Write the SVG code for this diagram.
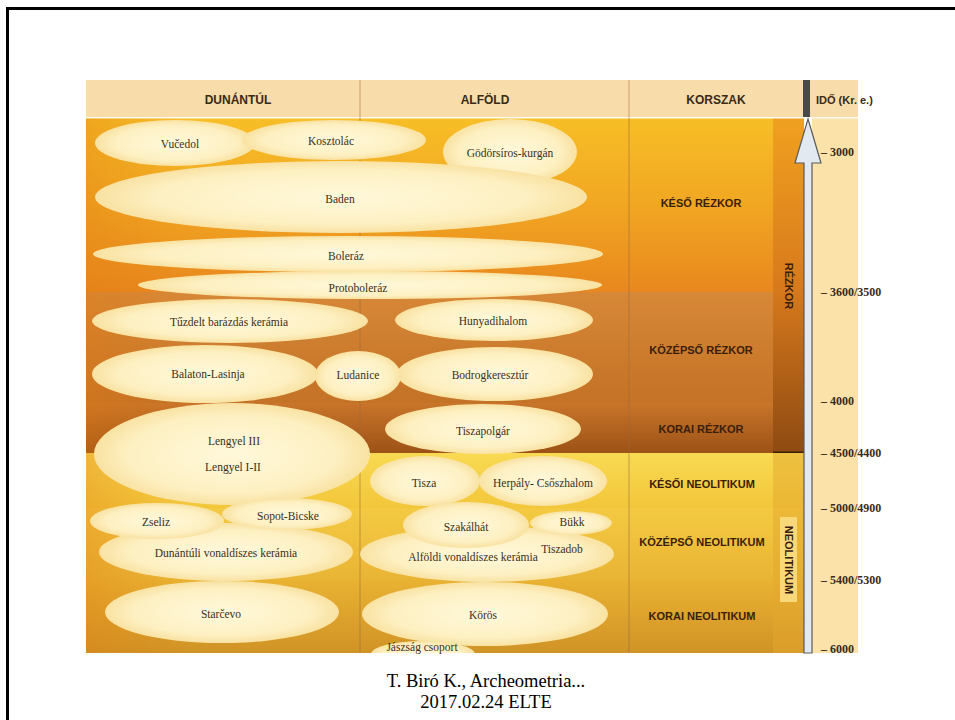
<svg xmlns="http://www.w3.org/2000/svg" width="955" height="720" viewBox="0 0 955 720">
<defs>
<linearGradient id="gKeso" x1="0" y1="0" x2="0" y2="1"><stop offset="0" stop-color="#f7be26"/><stop offset="0.5" stop-color="#f1a622"/><stop offset="1" stop-color="#e8871e"/></linearGradient>
<linearGradient id="gKozep" x1="0" y1="0" x2="0" y2="1"><stop offset="0" stop-color="#d78837"/><stop offset="1" stop-color="#c47226"/></linearGradient>
<linearGradient id="gKorai" x1="0" y1="0" x2="0" y2="1"><stop offset="0" stop-color="#c9752a"/><stop offset="1" stop-color="#9c5216"/></linearGradient>
<linearGradient id="gKesoiN" x1="0" y1="0" x2="0" y2="1"><stop offset="0" stop-color="#f8da52"/><stop offset="1" stop-color="#f3c63a"/></linearGradient>
<linearGradient id="gKozN" x1="0" y1="0" x2="0" y2="1"><stop offset="0" stop-color="#f4ca42"/><stop offset="1" stop-color="#e9b434"/></linearGradient>
<linearGradient id="gKoraiN" x1="0" y1="0" x2="0" y2="1"><stop offset="0" stop-color="#e9b232"/><stop offset="1" stop-color="#d09326"/></linearGradient>
<linearGradient id="gStrip" x1="0" y1="0" x2="0" y2="1"><stop offset="0" stop-color="#f0a020"/><stop offset="0.5" stop-color="#d87a1c"/><stop offset="1" stop-color="#8e4a12"/></linearGradient>
<linearGradient id="gLeft" x1="0" y1="0" x2="1" y2="0"><stop offset="0" stop-color="#e07a10" stop-opacity="0.35"/><stop offset="0.15" stop-color="#e07a10" stop-opacity="0"/></linearGradient>
<radialGradient id="gEll" cx="0.5" cy="0.5" r="0.5"><stop offset="0" stop-color="#fff8da"/><stop offset="0.75" stop-color="#fdf0c2"/><stop offset="1" stop-color="#f9e2a2"/></radialGradient>
<clipPath id="chartClip"><rect x="86" y="118" width="718" height="535"/></clipPath>
<style>
.ell{fill:url(#gEll)}
.cul{font-family:"Liberation Serif","DejaVu Serif",serif;font-size:11.5px;fill:#3b2f20;text-anchor:middle}
.per{font-family:"Liberation Sans","DejaVu Sans",sans-serif;font-size:11px;font-weight:bold;fill:#3a1e0a;text-anchor:middle}
.hdr{font-family:"Liberation Sans","DejaVu Sans",sans-serif;font-size:12px;font-weight:bold;fill:#3a2a18;text-anchor:middle}
.hdrl{font-family:"Liberation Sans","DejaVu Sans",sans-serif;font-size:11px;font-weight:bold;fill:#3a2a18}
.tm{font-family:"Liberation Serif","DejaVu Serif",serif;font-size:12px;font-weight:bold;fill:#3a2a1a}
.foot{font-family:"Liberation Serif","Times New Roman",serif;font-size:18.5px;fill:#000;text-anchor:middle}
.div{stroke:#9a6a3a;stroke-opacity:0.55;stroke-width:1}
</style>
</defs>
<rect width="955" height="720" fill="#ffffff"/>
<rect x="7.5" y="8.5" width="960" height="730" fill="none" stroke="#000" stroke-width="3"/>

<g id="background">
<rect x="86" y="80" width="772" height="37" fill="#f8dcaa"/>
<rect x="86" y="117" width="772" height="1.5" fill="#fffaf0"/>
<rect x="86" y="118.5" width="687" height="174" fill="url(#gKeso)"/>
<rect x="86" y="292" width="687" height="111" fill="url(#gKozep)"/>
<rect x="86" y="403" width="687" height="50" fill="url(#gKorai)"/>
<rect x="773" y="118.5" width="31" height="334.5" fill="url(#gStrip)"/>
<rect x="773" y="451.5" width="31" height="2" fill="#3a2008"/>
<rect x="86" y="453" width="718" height="55" fill="url(#gKesoiN)"/>
<rect x="86" y="508" width="718" height="72" fill="url(#gKozN)"/>
<rect x="86" y="580" width="718" height="73" fill="url(#gKoraiN)"/>
<rect x="773" y="453" width="31" height="200" fill="#e3a82e" fill-opacity="0.5"/>
<rect x="86" y="118.5" width="687" height="534.5" fill="url(#gLeft)"/>
<rect x="812" y="118.5" width="46" height="534.5" fill="#fbe2a8"/>
<line class="div" x1="360" y1="80" x2="360" y2="653"/>
<line class="div" x1="629" y1="80" x2="629" y2="653"/>
<rect x="803" y="80" width="7" height="37" fill="#4a4a4a"/>
<rect x="780" y="517" width="17" height="85" fill="#f8d878"/>
</g>

<g id="headers">
<text class="hdr" x="238" y="104">DUNÁNTÚL</text>
<text class="hdr" x="485" y="104">ALFÖLD</text>
<text class="hdr" x="716" y="104">KORSZAK</text>
<text class="hdrl" x="816" y="104">IDŐ (Kr. e.)</text>
</g>

<g id="time-axis">
<path d="M808,119 L821,163 L812,163 L812,653 L804,653 L804,163 L795,163 Z" fill="#e3e9f0" stroke="#5a5a5a" stroke-width="1.2"/>
<text class="tm" x="821" y="156">– 3000</text>
<text class="tm" x="821" y="296">– 3600/3500</text>
<text class="tm" x="821" y="405">– 4000</text>
<text class="tm" x="821" y="457">– 4500/4400</text>
<text class="tm" x="821" y="512">– 5000/4900</text>
<text class="tm" x="821" y="584">– 5400/5300</text>
<text class="tm" x="821" y="653">– 6000</text>
</g>

<g id="periods">
<text class="per" x="701" y="207">KÉSŐ RÉZKOR</text>
<text class="per" x="701" y="354">KÖZÉPSŐ RÉZKOR</text>
<text class="per" x="701" y="433">KORAI RÉZKOR</text>
<text class="per" x="702" y="488">KÉSŐI NEOLITIKUM</text>
<text class="per" x="702" y="546">KÖZÉPSŐ NEOLITIKUM</text>
<text class="per" x="702" y="620">KORAI NEOLITIKUM</text>
<text class="per" transform="translate(785,286) rotate(90)" x="0" y="0">RÉZKOR</text>
<text class="per" transform="translate(785,560) rotate(90)" x="0" y="0">NEOLITIKUM</text>
</g>

<g id="gods"><ellipse class="ell" cx="510" cy="152" rx="67" ry="33"/><text class="cul" x="510" y="157">Gödörsíros-kurgán</text></g>
<g id="baden"><ellipse class="ell" cx="341" cy="197" rx="246" ry="36"/><text class="cul" x="340" y="203">Baden</text></g>
<g id="vucedol"><ellipse class="ell" cx="175" cy="143" rx="80" ry="23"/><text class="cul" x="180" y="148">Vučedol</text></g>
<g id="kosztolac"><ellipse class="ell" cx="334" cy="140" rx="92" ry="20"/><text class="cul" x="331" y="145">Kosztolác</text></g>
<g id="boleraz"><ellipse class="ell" cx="348" cy="254" rx="255" ry="18"/><text class="cul" x="346" y="260">Boleráz</text></g>
<g id="protoboleraz"><ellipse class="ell" cx="370" cy="285" rx="232" ry="14"/><text class="cul" x="358" y="292">Protoboleráz</text></g>
<g id="tuzdelt"><ellipse class="ell" cx="230" cy="321" rx="138" ry="22"/><text class="cul" x="229" y="326">Tűzdelt barázdás kerámia</text></g>
<g id="hunyadihalom"><ellipse class="ell" cx="494" cy="320" rx="99" ry="21"/><text class="cul" x="493" y="325">Hunyadihalom</text></g>
<g id="balaton"><ellipse class="ell" cx="205" cy="374" rx="113" ry="29"/><text class="cul" x="208" y="378">Balaton-Lasinja</text></g>
<g id="bodrog"><ellipse class="ell" cx="495" cy="374" rx="98" ry="27"/><text class="cul" x="490" y="379">Bodrogkeresztúr</text></g>
<g id="ludanice"><ellipse class="ell" cx="358" cy="376" rx="43" ry="25"/><text class="cul" x="358" y="379">Ludanice</text></g>
<g id="lengyel"><ellipse class="ell" cx="232" cy="454" rx="138" ry="51"/><text class="cul" x="234" y="445">Lengyel III</text><text class="cul" x="233" y="471">Lengyel I-II</text></g>
<g id="tiszapolgar"><ellipse class="ell" cx="483" cy="429" rx="98" ry="25"/><text class="cul" x="483" y="435">Tiszapolgár</text></g>
<g id="tisza"><ellipse class="ell" cx="425" cy="481" rx="55" ry="25"/><text class="cul" x="424" y="487">Tisza</text></g>
<g id="herpaly"><ellipse class="ell" cx="543" cy="481" rx="64" ry="25"/><text class="cul" x="543" y="487">Herpály- Csőszhalom</text></g>
<g id="dunantuli-vonal"><ellipse class="ell" cx="226" cy="552" rx="127" ry="29"/><text class="cul" x="226" y="557">Dunántúli vonaldíszes kerámia</text></g>
<g id="zseliz"><ellipse class="ell" cx="157" cy="521" rx="67" ry="18"/><text class="cul" x="156" y="526">Zseliz</text></g>
<g id="sopot"><ellipse class="ell" cx="287" cy="514" rx="65" ry="16"/><text class="cul" x="288" y="520">Sopot-Bicske</text></g>
<g id="alfoldi-vonal"><ellipse class="ell" cx="487" cy="554" rx="127" ry="28"/><text class="cul" x="473" y="561">Alföldi vonaldíszes kerámia</text><text class="cul" x="562" y="553">Tiszadob</text></g>
<g id="szakalhat"><ellipse class="ell" cx="466" cy="525" rx="63" ry="23"/><text class="cul" x="466" y="531">Szakálhát</text></g>
<g id="bukk"><ellipse class="ell" cx="571" cy="523" rx="41" ry="12"/><text class="cul" x="572" y="526">Bükk</text></g>
<g id="starcevo"><ellipse class="ell" cx="222" cy="612" rx="117" ry="31"/><text class="cul" x="221" y="618">Starčevo</text></g>
<g id="koros"><ellipse class="ell" cx="485" cy="614" rx="123" ry="32"/><text class="cul" x="483" y="619">Körös</text></g>
<g id="jaszsag"><ellipse class="ell" cx="423" cy="654" rx="52" ry="13" clip-path="url(#chartClip)"/><text class="cul" x="422" y="651">Jászság csoport</text></g>

<g id="footer">
<text class="foot" x="486" y="687">T. Biró K., Archeometria...</text>
<text class="foot" x="486" y="708">2017.02.24 ELTE</text>
</g>
</svg>
